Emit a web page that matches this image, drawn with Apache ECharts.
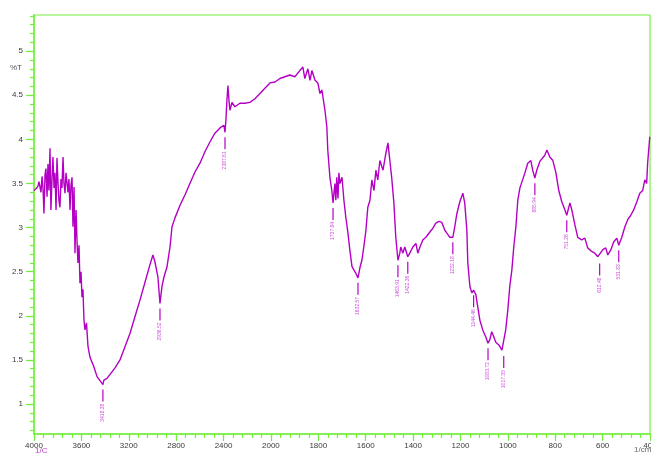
<!DOCTYPE html>
<html>
<head>
<meta charset="utf-8">
<script src="https://cdn.jsdelivr.net/npm/echarts@6/dist/echarts.min.js"></script>
<style>
  html, body { margin: 0; padding: 0; background: #fff; }
  #chart { width: 651px; height: 455px; }
</style>
</head>
<body>
<div id="chart"></div>
<script>
// FTIR transmittance spectrum, wavenumber in 1/cm
const wavenumber = [4000,3983,3966,3958,3949,3941,3932,3924,3916,3907,3899,3890,3882,3874,3865,3857,3848,3840,3831,3823,3814,3806,3797,3789,3781,3772,3764,3755,3747,3738,3730,3722,3713,3705,3696,3688,3679,3671,3662,3654,3645,3637,3629,3620,3612,3603,3595,3587,3578,3570,3557,3544,3527,3494,3468,3435,3426,3418.38,3410,3384,3316,3274,3232,3190,3148,3105,3063,3021,2996,2979,2954,2936.52,2920,2903,2878,2852,2835,2810,2768,2726,2684,2641,2599,2557,2515,2473,2430,2397,2387.61,2380,2371,2363,2354,2346,2329,2304,2262,2219,2177,2135,2093,2051,2008,1983,1962,1941,1920,1899,1878,1865,1857,1844,1835,1827,1814,1802,1793,1785,1772,1764,1760,1751,1743,1737.84,1734,1730,1726,1722,1717,1713,1709,1700,1692,1684,1675,1667,1658,1650,1641,1632.57,1624,1616,1608,1599,1591,1582,1574,1565,1557,1549,1540,1527,1515,1506,1498,1490,1481,1473,1463.91,1456,1452,1443,1435,1422.36,1414,1401,1388,1380,1371,1359,1346,1329,1317,1304,1291,1279,1266,1258,1245,1232.18,1224,1215,1203,1190,1182,1173,1169,1160,1152,1144.46,1135,1127,1118,1106,1093,1083.72,1076,1068,1059,1051,1038,1025,1017.35,1009,1000,992,983,975,966,958,949,928,916,903,895,885.94,878,865,844,835,823,810,797,785,772,759,751.26,738,730,717,705,688,675,663,646,633,620,612.48,599,587,578,565,553,540,531.83,519,506,494,481,469,456,443,431,422,414,410,401];
const transmittance = [3.42,3.44,3.47,3.52,3.54,3.40,3.58,3.45,3.16,3.60,3.67,3.35,3.72,3.42,3.90,3.20,3.55,3.80,3.45,3.62,3.20,3.79,3.50,3.30,3.23,3.55,3.45,3.80,3.50,3.39,3.62,3.63,3.40,3.55,3.20,3.48,3.57,3.01,3.46,2.71,3.20,2.86,2.60,2.80,2.37,2.50,2.21,2.30,1.95,1.84,1.92,1.65,1.53,1.42,1.31,1.25,1.27,1.22,1.27,1.29,1.41,1.50,1.65,1.80,1.99,2.18,2.38,2.58,2.69,2.61,2.44,2.14,2.33,2.44,2.55,2.78,3.01,3.11,3.25,3.37,3.50,3.63,3.73,3.86,3.97,4.07,4.13,4.16,4.08,4.22,4.45,4.61,4.44,4.33,4.42,4.37,4.41,4.41,4.42,4.46,4.52,4.58,4.64,4.65,4.69,4.71,4.73,4.71,4.78,4.82,4.69,4.80,4.67,4.78,4.67,4.64,4.52,4.56,4.33,4.14,3.88,3.57,3.42,3.28,3.39,3.50,3.31,3.57,3.33,3.62,3.50,3.57,3.31,3.12,2.94,2.75,2.56,2.52,2.48,2.43,2.55,2.63,2.78,2.97,3.23,3.31,3.54,3.42,3.65,3.54,3.76,3.65,3.84,3.96,3.76,3.56,3.28,2.89,2.63,2.71,2.78,2.71,2.78,2.67,2.71,2.78,2.82,2.71,2.78,2.86,2.89,2.95,2.99,3.05,3.07,3.06,2.97,2.94,2.89,2.89,3.01,3.16,3.29,3.39,3.28,2.97,2.60,2.33,2.26,2.29,2.24,2.10,1.95,1.84,1.76,1.69,1.73,1.82,1.76,1.70,1.67,1.61,1.60,1.84,2.07,2.33,2.52,2.78,3.01,3.31,3.45,3.62,3.73,3.76,3.65,3.56,3.65,3.75,3.82,3.88,3.80,3.76,3.62,3.42,3.29,3.20,3.14,3.28,3.20,3.03,2.89,2.86,2.88,2.77,2.73,2.71,2.67,2.65,2.75,2.77,2.69,2.75,2.84,2.88,2.80,2.89,3.01,3.09,3.14,3.20,3.29,3.39,3.42,3.54,3.50,3.73,4.03];

// Picked band positions (1/cm)
const peaks = [3418.38, 2936.52, 2387.61, 1737.84, 1632.57, 1463.91, 1422.36, 1232.18, 1144.46, 1083.72, 1017.35, 885.94, 751.26, 612.48, 531.83];

// Axis tick labels
const xTickLabels = [4000, 3600, 3200, 2800, 2400, 2000, 1800, 1600, 1400, 1200, 1000, 800, 600, 400];
const yTickLabels = [1, 1.5, 2, 2.5, 3, 3.5, 4, 4.5, 5];

// The wavenumber axis changes scale at 2000: 400 per division above, 200 per division below.
function toAxis(w) {
  return w >= 2000 ? (4000 - w) / 400 : 5 + (2000 - w) / 200;
}

const lineData = wavenumber.map((w, i) => [toAxis(w), transmittance[i]]);
const peakData = peaks.map(w => {
  const i = wavenumber.indexOf(w);
  return [toAxis(w), transmittance[i], w.toFixed(2)];
});

const majorX = xTickLabels.map((_, i) => i);
const minorX = [];
for (let i = 0; i <= 65; i++) minorX.push(i / 5);
const minorY = [];
for (let i = 7; i <= 54; i++) minorY.push(i / 10);

const GREEN = '#74ee3c';
const PURPLE = '#b400c4';
const X_MIN = 0, X_MAX = 13, Y_MIN = 0.66, Y_MAX = 5.41;

const chart = echarts.init(document.getElementById('chart'), null, { renderer: 'canvas' });
chart.setOption({
  animation: false,
  backgroundColor: '#ffffff',
  grid: {
    left: 34, right: 1, top: 15, bottom: 21,
    outerBoundsMode: 'none', containLabel: false,
    show: true, borderColor: GREEN, borderWidth: 1.2, backgroundColor: 'transparent'
  },
  xAxis: [
    {
      type: 'value', min: X_MIN, max: X_MAX, position: 'bottom',
      axisLine: { show: true, onZero: false, lineStyle: { color: GREEN, width: 1.5 } },
      axisTick: { show: true, customValues: majorX, length: 7, lineStyle: { color: GREEN, width: 1.2 } },
      axisLabel: {
        show: true, customValues: majorX, margin: 8, hideOverlap: false,
        color: '#3a3a3a', fontSize: 8, fontFamily: 'Liberation Sans',
        formatter: v => String(xTickLabels[Math.round(v)])
      },
      splitLine: { show: false }
    },
    {
      type: 'value', min: X_MIN, max: X_MAX, position: 'bottom',
      axisLine: { show: false, onZero: false },
      axisTick: { show: true, customValues: minorX, length: 4, lineStyle: { color: GREEN, width: 1.2 } },
      axisLabel: { show: false },
      splitLine: { show: false }
    }
  ],
  yAxis: [
    {
      type: 'value', min: Y_MIN, max: Y_MAX, position: 'left',
      axisLine: { show: true, onZero: false, lineStyle: { color: GREEN, width: 1.5 } },
      axisTick: { show: true, customValues: yTickLabels, length: 8, lineStyle: { color: GREEN, width: 1.2 } },
      axisLabel: {
        show: true, customValues: yTickLabels, margin: 11,
        color: '#3a3a3a', fontSize: 8, fontFamily: 'Liberation Sans',
        formatter: v => String(v)
      },
      splitLine: { show: false }
    },
    {
      type: 'value', min: Y_MIN, max: Y_MAX, position: 'left',
      axisLine: { show: false, onZero: false },
      axisTick: { show: true, customValues: minorY, length: 4, lineStyle: { color: GREEN, width: 1.2 } },
      axisLabel: { show: false },
      splitLine: { show: false }
    }
  ],
  graphic: [
    { type: 'text', left: 10, top: 64, style: { text: '%T', fill: '#555', font: '8px "Liberation Sans"' } },
    { type: 'text', left: 35, top: 447, style: { text: '1/C', fill: '#c040d0', font: '8px "Liberation Sans"' } },
    { type: 'text', left: 634, top: 446, style: { text: '1/cm', fill: '#666', font: '8px "Liberation Sans"' } }
  ],
  series: [
    {
      type: 'line', xAxisIndex: 0, yAxisIndex: 0,
      data: lineData, showSymbol: false, symbol: 'none',
      lineStyle: { color: PURPLE, width: 1.4 },
      z: 3
    },
    {
      type: 'custom', xAxisIndex: 0, yAxisIndex: 0,
      data: peakData, clip: false, z: 4,
      encode: { x: 0, y: 1 },
      renderItem: function (params, api) {
        const p = api.coord([api.value(0), api.value(1)]);
        const label = peakData[params.dataIndex][2];
        return {
          type: 'group',
          children: [
            {
              type: 'line',
              shape: { x1: p[0], y1: p[1] + 5, x2: p[0], y2: p[1] + 17 },
              style: { stroke: PURPLE, lineWidth: 1.2 }
            },
            {
              type: 'text',
              x: p[0], y: p[1] + 19, rotation: Math.PI / 2,
              style: {
                text: label, fill: '#d050dc',
                font: '5px "Liberation Sans"', align: 'right', verticalAlign: 'middle'
              }
            }
          ]
        };
      }
    }
  ]
});
</script>
</body>
</html>
